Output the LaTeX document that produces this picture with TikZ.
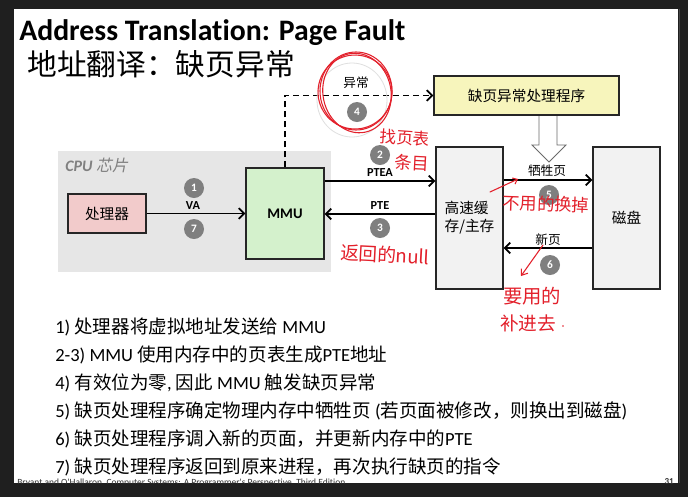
\documentclass[tikz,border=0pt]{standalone}
\usepackage{fontspec}
\setmainfont{Carlito}[Ligatures=NoCommon]
\newfontfamily\cjk{Noto Sans CJK SC}
\newfontfamily\cjkit{Noto Sans CJK SC}[FakeSlant=0.2]
\newfontfamily\calf{Carlito}[Ligatures=NoCommon]
\newcommand\lat[1]{{\calf #1}}
\usetikzlibrary{arrows.meta}
\definecolor{bgdark}{HTML}{1F1F1F}
\definecolor{sidegray}{HTML}{444444}
\definecolor{cpugray}{HTML}{E6E6E6}
\definecolor{procpink}{HTML}{F2CBCB}
\definecolor{mmugreen}{HTML}{D4F1CC}
\definecolor{handyellow}{HTML}{F7F5BC}
\definecolor{memgray}{HTML}{F2F2F2}
\definecolor{stepgray}{HTML}{7F7F7F}
\definecolor{chiptext}{HTML}{808080}
\definecolor{ink}{HTML}{E3202B}
\definecolor{edge}{HTML}{262626}
\definecolor{footgray}{HTML}{333333}
\definecolor{hollow}{HTML}{6A6A6A}
\tikzset{
  box/.style={draw=edge, line width=1pt, inner sep=0pt, anchor=center},
  stepc/.style={circle, fill=stepgray, inner sep=0pt, minimum size=15pt, text=white, font=\calf\bfseries\fontsize{8.5}{9}\selectfont},
  conn/.style={line width=1.3pt, draw=black, -{Straight Barb[length=4pt,width=8pt]}},
  dconn/.style={conn, dash pattern=on 4.5pt off 3pt},
  lbl/.style={font=\calf\bfseries\fontsize{9.2}{10}\selectfont, inner sep=0pt},
  zlbl/.style={font=\cjk\fontsize{9.5}{10}\selectfont, inner sep=0pt},
  hand/.style={text=ink, inner sep=0pt},
  handline/.style={draw=ink, line width=0.8pt, line cap=round},
  bline/.style={anchor=base west, inner sep=0pt, font=\cjk\fontsize{13.9}{16}\selectfont},
}
\begin{document}
\begin{tikzpicture}[x=0.75pt,y=-0.75pt]
\useasboundingbox (0,0) rectangle (688,497);
% frame
\fill[bgdark] (0,0) rectangle (688,497);
\fill[white] (14,9) rectangle (678,483);
\draw[sidegray, line width=1.2pt] (679.5,9) -- (679.5,483);

% titles
\node[anchor=base west, inner sep=0pt] (title) at (19,40)
  {\calf\bfseries\fontsize{22.3}{24}\selectfont Address Translation: Page Fault};
\node[anchor=base west, inner sep=0pt] (subtitle) at (27,75)
  {\cjk\fontsize{22.3}{24}\selectfont 地址翻译：缺页异常};

% CPU chip region
\node[fill=cpugray, inner sep=0pt, minimum width=204.75pt, minimum height=90.75pt] (cpu) at (194.5,211.5) {};
\node[anchor=west, inner sep=0pt, text=chiptext] (cpulbl) at (65,165)
  {\fontsize{12}{13}\selectfont\calf\bfseries\itshape CPU {\cjkit\mdseries 芯片}};

% hollow arrow (handler -> memory/disk)
\fill[white] (539,115.5) -- (539,145) -- (532,145) -- (549,162) -- (566,145) -- (557,145) -- (557,115.5) -- cycle;
\draw[hollow, line width=0.6pt] (539,115.5) -- (539,145) -- (532,145) -- (549,162) -- (566,145) -- (557,145) -- (557,115.5);

% boxes
\node[box, fill=procpink, minimum width=58.5pt, minimum height=29.25pt, font=\cjk\fontsize{11}{12}\selectfont] (proc) at (107,213.5) {处理器};
\node[box, fill=mmugreen, minimum width=58.5pt, minimum height=68.25pt, font=\calf\bfseries\fontsize{11}{12}\selectfont] (mmu) at (285,213.5) {MMU};
\node[box, fill=handyellow, minimum width=138.75pt, minimum height=29.25pt, font=\cjk\fontsize{11}{12}\selectfont] (handler) at (526.5,95.5) {缺页异常处理程序};
\node[box, fill=memgray, minimum width=50.25pt, minimum height=106.5pt, align=left, font=\cjk\fontsize{11}{13.5}\selectfont] (mem) at (469.5,218) {高速缓\\存/主存};
\node[box, fill=memgray, minimum width=50.25pt, minimum height=106.5pt, font=\cjk\fontsize{11}{12}\selectfont] (disk) at (626.5,218) {磁盘};

% connectors
\draw[conn] (proc.east) -- (mmu.west);
\draw[conn] (mmu.east |- 0,181) -- (mem.west |- 0,181);
\draw[conn] (mem.west |- 0,214) -- (mmu.east |- 0,214);
\draw[conn] (mem.east |- 0,180) -- (disk.west |- 0,180);
\draw[conn] (disk.west |- 0,248) -- (mem.east |- 0,248);
\draw[dconn] (mmu.north) |- (handler.west);

% labels
\node[lbl] (va) at (193,206) {VA};
\node[lbl] (ptea) at (380,173) {PTEA};
\node[lbl] (pte) at (380,206) {PTE};
\node[zlbl] (victim) at (547,171) {牺牲页};
\node[zlbl] (newpg) at (548,240) {新页};
\node[zlbl] (exc) at (356,83) {异常};

% step circles
\node[stepc] (s1) at (194,188) {1};
\node[stepc] (s7) at (194,229) {7};
\node[stepc] (s2) at (380,155) {2};
\node[stepc] (s3) at (380,228) {3};
\node[stepc] (s4) at (357,112) {4};
\node[stepc] (s5) at (549,195) {5};
\node[stepc] (s6) at (550,265) {6};

% bottom text
\node[bline] (l1) at (55,333) {\lat{1)} 处理器将虚拟地址发送给\lat{ MMU}};
\node[bline] (l2) at (55,361) {\lat{2-3) MMU }使用内存中的页表生成\lat{PTE}地址};
\node[bline] (l3) at (55,389) {\lat{4) }有效位为零\lat{, }因此\lat{ MMU }触发缺页异常};
\node[bline] (l4) at (55,417) {\lat{5) }缺页处理程序确定物理内存中牺牲页\lat{ (}若页面被修改，则换出到磁盘\lat{)}};
\node[bline] (l5) at (55,445) {\lat{6) }缺页处理程序调入新的页面，并更新内存中的\lat{PTE}};
\node[bline] (l6) at (55,473) {\lat{7) }缺页处理程序返回到原来进程，再次执行缺页的指令};

% footer (clipped by slide edge)
\begin{scope}
\clip (14,9) rectangle (678,483);
\node[anchor=base west, inner sep=0pt, text=footgray, font=\calf\fontsize{7.1}{8}\selectfont] (foot) at (17,485.5)
  {Bryant and O'Hallaron, Computer Systems: A Programmer's Perspective, Third Edition};
\node[anchor=base east, inner sep=0pt, text=footgray, font=\calf\bfseries\fontsize{6.8}{7}\selectfont] (pageno) at (674,484.5) {31};
\end{scope}

% red handwritten annotations
\draw[gray!25, line width=0.6pt] (352,100) ellipse [x radius=35, y radius=37];
\draw[handline] (356,91) ellipse [x radius=36, y radius=39];
\draw[handline, rotate around={12:(357,93)}] (357,93) ellipse [x radius=34, y radius=40];
\draw[handline, rotate around={-8:(355,92)}] (355,92) ellipse [x radius=37, y radius=37];

\node[hand, font=\cjk\fontsize{12.5}{13}\selectfont, rotate=-4] (h1) at (405,138) {找页表};
\node[hand, font=\cjk\fontsize{13}{14}\selectfont, rotate=-3] (h2) at (412,163) {条目};
\node[hand, font=\cjk\fontsize{14}{15}\selectfont, rotate=-3] (h3) at (385,255) {返回的null};
\node[hand, font=\cjk\fontsize{13}{14}\selectfont, rotate=-2] (h4) at (546,204) {不用的换掉};
\node[hand, font=\cjk\fontsize{14.5}{15}\selectfont] (h5) at (532,296) {要用的};
\node[hand, font=\cjk\fontsize{14}{15}\selectfont] (h6) at (528,323) {补进去};
\fill[ink] (563,326) circle [radius=0.9];

\coordinate (m1a) at (490,192);
\coordinate (m1b) at (518,179);
\draw[handline, -{Straight Barb[length=3pt,width=5pt]}] (m1a) -- (m1b);
\coordinate (m2a) at (543,245);
\coordinate (m2b) at (521,276);
\draw[handline, -{Straight Barb[length=4pt,width=6pt]}] (m2a) -- (m2b);
\end{tikzpicture}
\end{document}
